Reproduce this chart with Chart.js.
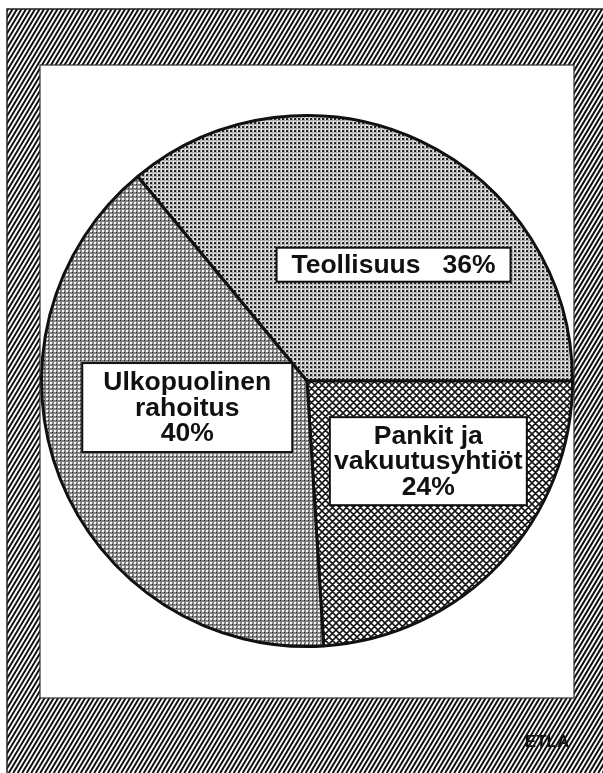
<!DOCTYPE html>
<html>
<head>
<meta charset="utf-8">
<script src="https://cdn.jsdelivr.net/npm/chart.js@4.4.1/dist/chart.umd.min.js"></script>
<style>
  html, body { margin: 0; padding: 0; background: #fff; }
  canvas { display: block; }
</style>
</head>
<body>
<canvas id="c" width="603" height="773"></canvas>
<script>
// ---- Data ----
const categories = ['Teollisuus', 'Pankit ja vakuutusyhtiöt', 'Ulkopuolinen rahoitus'];
const shares = [36, 24, 40];
const nameLines = [['Teollisuus'], ['Pankit ja', 'vakuutusyhtiöt'], ['Ulkopuolinen', 'rahoitus']];
const sourceText = 'ETLA';

// ---- Patterns ----
function makeTile(w, h, draw) {
  const c = document.createElement('canvas');
  c.width = w; c.height = h;
  const g = c.getContext('2d');
  draw(g, w, h);
  return document.getElementById('c').getContext('2d').createPattern(c, 'repeat');
}
const patIndustry = makeTile(4, 4, (g) => {
  g.fillStyle = '#e6e6e6'; g.fillRect(0, 0, 4, 4);
  g.fillStyle = '#b0b0b0'; g.fillRect(0, 0, 4, 1); g.fillRect(0, 0, 1, 4);
  g.fillStyle = '#222'; g.fillRect(2, 2, 2, 2);
});
const patBanks = makeTile(7, 7, (g) => {
  g.fillStyle = '#fff'; g.fillRect(0, 0, 7, 7);
  g.strokeStyle = '#151515'; g.lineWidth = 1.6;
  g.beginPath();
  for (let k = -1; k <= 1; k++) {
    g.moveTo(k * 7, 0); g.lineTo(k * 7 + 7, 7);
    g.moveTo(k * 7 + 7, 0); g.lineTo(k * 7, 7);
  }
  g.stroke();
});
const patExternal = makeTile(4, 4, (g) => {
  g.fillStyle = '#f4f4f4'; g.fillRect(0, 0, 4, 4);
  g.fillStyle = '#848484'; g.fillRect(0, 0, 4, 2); g.fillRect(0, 0, 2, 4);
  g.fillStyle = '#222'; g.fillRect(0, 0, 1, 1);
});

// ---- Background frame plugin ----
const framePlugin = {
  id: 'frame',
  beforeDraw(chart, args, opts) {
    const ctx = chart.ctx;
    const W = chart.width, H = chart.height;
    const p = opts.panel;
    ctx.save();
    ctx.fillStyle = '#fff';
    ctx.fillRect(0, 0, W, H);
    // hatched area
    ctx.save();
    ctx.beginPath();
    ctx.rect(opts.outer.x, opts.outer.y, W - opts.outer.x, H - opts.outer.y);
    ctx.rect(p.x, p.y + p.h, p.w, -p.h);
    ctx.clip('evenodd');
    ctx.strokeStyle = '#111';
    ctx.lineWidth = 2;
    const slope = 0.6;
    ctx.beginPath();
    for (let x0 = -H * slope; x0 < W + 10; x0 += 4.5) {
      ctx.moveTo(x0, H);
      ctx.lineTo(x0 + H * slope, 0);
    }
    ctx.stroke();
    ctx.restore();
    // outer border lines
    ctx.strokeStyle = '#222';
    ctx.lineWidth = 1.5;
    ctx.beginPath();
    ctx.moveTo(opts.outer.x, H);
    ctx.lineTo(opts.outer.x, opts.outer.y);
    ctx.lineTo(W, opts.outer.y);
    ctx.stroke();
    // panel border
    ctx.strokeStyle = '#333';
    ctx.lineWidth = 1.2;
    ctx.strokeRect(p.x, p.y, p.w, p.h);
    // source text
    ctx.fillStyle = '#111';
    ctx.font = 'bold 17px "Liberation Sans", Arial, sans-serif';
    ctx.textAlign = 'center';
    ctx.textBaseline = 'alphabetic';
    ctx.fillText(sourceText, opts.source.x, opts.source.y);
    ctx.restore();
  }
};

// ---- Label boxes plugin ----
const labelPlugin = {
  id: 'boxLabels',
  afterDatasetsDraw(chart, args, opts) {
    const ctx = chart.ctx;
    const meta = chart.getDatasetMeta(0);
    const values = chart.data.datasets[0].data;
    ctx.save();
    ctx.font = opts.font;
    ctx.textAlign = 'center';
    ctx.textBaseline = 'middle';
    meta.data.forEach((arc, i) => {
      const cfg = opts.items[i];
      const pct = values[i] + '%';
      let lines = nameLines[i].slice();
      if (cfg.inline) {
        lines[lines.length - 1] = lines[lines.length - 1] + '   ' + pct;
      } else {
        lines.push(pct);
      }
      const r = arc.outerRadius;
      const cx = arc.x + cfg.dx * r;
      const cy = arc.y + cfg.dy * r;
      const bw = cfg.w, bh = cfg.h;
      ctx.fillStyle = '#fff';
      ctx.fillRect(cx - bw / 2, cy - bh / 2, bw, bh);
      ctx.strokeStyle = '#111';
      ctx.lineWidth = 2;
      ctx.strokeRect(cx - bw / 2, cy - bh / 2, bw, bh);
      ctx.fillStyle = '#111';
      const lh = opts.lineHeight;
      const y0 = cy - (lines.length - 1) * lh / 2 + 1;
      lines.forEach((t, k) => ctx.fillText(t, cx, y0 + k * lh));
    });
    ctx.restore();
  }
};

new Chart(document.getElementById('c'), {
  type: 'pie',
  data: {
    labels: categories,
    datasets: [{
      data: shares,
      backgroundColor: [patIndustry, patBanks, patExternal],
      borderColor: '#111',
      borderWidth: 3
    }]
  },
  options: {
    responsive: false,
    animation: false,
    rotation: 90 - shares[0] * 3.6,
    layout: { padding: { left: 40, right: 29, top: 114, bottom: 125 } },
    plugins: {
      legend: { display: false },
      tooltip: { enabled: false },
      frame: {
        outer: { x: 7, y: 9 },
        panel: { x: 40, y: 65, w: 534, h: 633 },
        source: { x: 547, y: 747 }
      },
      boxLabels: {
        font: 'bold 26.5px "Liberation Sans", Arial, sans-serif',
        lineHeight: 25.5,
        items: [
          { dx: 0.326, dy: -0.438, w: 234, h: 34, inline: true },
          { dx: 0.457, dy: 0.302, w: 197, h: 88 },
          { dx: -0.451, dy: 0.10, w: 210, h: 89 }
        ]
      }
    }
  },
  plugins: [framePlugin, labelPlugin]
});
</script>
</body>
</html>
